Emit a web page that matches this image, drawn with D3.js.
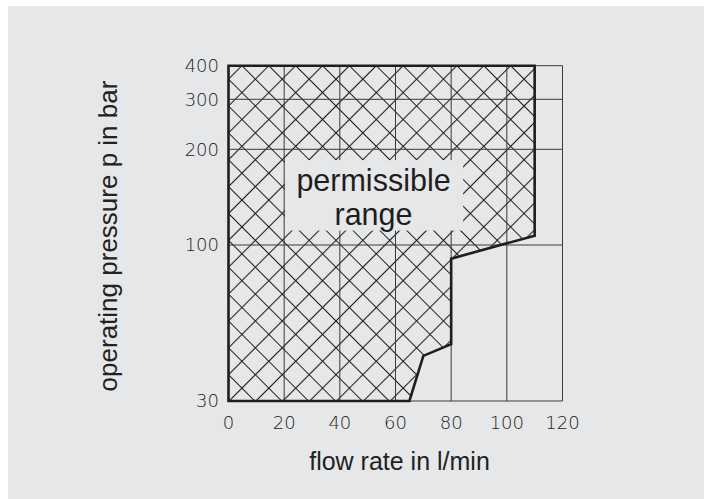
<!DOCTYPE html>
<meta charset="utf-8">
<script src="https://d3js.org/d3.v7.min.js"></script>
<body style="margin:0;background:#fff">
    <div id="chart"></div>
</body>
<script>
    // axis ticks
    const flowTicks = [0, 20, 40, 60, 80, 100, 120];
    const pressureTicks = [30, 100, 200, 300, 400];

    // outline of the permissible range (flow in l/min, pressure in bar)
    const rangeFlow = [0, 110, 110, 80, 80, 70, 65, 0];
    const rangePressure = [400, 400, 107, 90, 46.5, 42.5, 30, 30];

    // label and the blank box cut out of the hatching behind it
    const labelLines = ["permissible", "range"];
    const labelBoxFlow = [20.3, 84.3];
    const labelBoxPressure = [111, 185];

    const W = 704, H = 499;
    const bg = "#e6e7e8";

    const svg = d3.select("#chart").append("svg")
        .attr("width", W)
        .attr("height", H);

    svg.append("rect")
        .attr("x", 8).attr("y", 6)
        .attr("width", W - 8).attr("height", H - 6)
        .attr("fill", bg);

    const x = d3.scaleLinear().domain([0, 120]).range([228.5, 562.5]);
    // log axis, hand drawn so spacing is slightly uneven
    const y = d3.scaleLog()
        .domain([30, 100, 200, 300, 400])
        .range([401, 245, 149.3, 99.3, 65.7]);

    // cross hatching
    const w = 19;
    const pat = svg.append("defs").append("pattern")
        .attr("id", "hatch")
        .attr("patternUnits", "userSpaceOnUse")
        .attr("width", w).attr("height", w)
        .attr("patternTransform", `translate(${x(0)},${y(400)}) rotate(45)`);
    pat.append("path")
        .attr("d", `M${w / 2},0V${w}M0,${w / 2}H${w}`)
        .attr("stroke", "#1e1e1e")
        .attr("stroke-width", 1.1);

    const pts = rangeFlow.map((f, i) => [x(f), y(rangePressure[i])]);

    svg.append("path")
        .attr("d", "M" + pts.join("L") + "Z")
        .attr("fill", "url(#hatch)");

    // grid
    svg.append("g").selectAll("line")
        .data(flowTicks)
        .join("line")
        .attr("x1", d => x(d)).attr("x2", d => x(d))
        .attr("y1", y(30)).attr("y2", y(400))
        .attr("stroke", "#3a3a3a")
        .attr("stroke-width", 1);
    svg.append("g").selectAll("line")
        .data(pressureTicks)
        .join("line")
        .attr("x1", x(0)).attr("x2", x(120))
        .attr("y1", d => y(d)).attr("y2", d => y(d))
        .attr("stroke", "#3a3a3a")
        .attr("stroke-width", 1);

    // blank box for the label
    svg.append("rect")
        .attr("x", x(labelBoxFlow[0]))
        .attr("y", y(labelBoxPressure[1]))
        .attr("width", x(labelBoxFlow[1]) - x(labelBoxFlow[0]))
        .attr("height", y(labelBoxPressure[0]) - y(labelBoxPressure[1]))
        .attr("fill", bg);

    svg.append("g").selectAll("text")
        .data(labelLines)
        .join("text")
        .attr("x", 373.5)
        .attr("y", (d, i) => 190.5 + i * 34)
        .attr("text-anchor", "middle")
        .style("font-family", "'Liberation Sans', Arial, sans-serif")
        .style("font-size", "30.5px")
        .attr("fill", "#1e1e1e")
        .text(d => d);

    // outline
    svg.append("path")
        .attr("d", "M" + pts.join("L") + "Z")
        .attr("fill", "none")
        .attr("stroke", "#1e1e1e")
        .attr("stroke-width", 2.6)
        .attr("stroke-linejoin", "miter");

    // tick labels
    const tickFont = "'DejaVu Sans', sans-serif";
    svg.append("g").selectAll("text")
        .data(flowTicks)
        .join("text")
        .attr("x", d => x(d))
        .attr("y", 429)
        .attr("text-anchor", "middle")
        .style("font-family", tickFont)
        .style("font-weight", 300)
        .style("font-size", "18px")
        .attr("fill", "#222")
        .text(d => d);
    svg.append("g").selectAll("text")
        .data(pressureTicks)
        .join("text")
        .attr("x", 219)
        .attr("y", d => y(d))
        .attr("dy", "0.36em")
        .attr("text-anchor", "end")
        .style("font-family", tickFont)
        .style("font-weight", 300)
        .style("font-size", "18px")
        .attr("fill", "#222")
        .text(d => d);

    // axis titles
    svg.append("text")
        .attr("x", 399.5).attr("y", 469.5)
        .attr("text-anchor", "middle")
        .style("font-family", "'Liberation Sans', Arial, sans-serif")
        .style("font-size", "25px")
        .attr("fill", "#222")
        .text("flow rate in l/min");
    svg.append("text")
        .attr("transform", "translate(117,236) rotate(-90)")
        .attr("text-anchor", "middle")
        .style("font-family", "'Liberation Sans', Arial, sans-serif")
        .style("font-size", "26px")
        .attr("fill", "#222")
        .text("operating pressure p in bar");
</script>
